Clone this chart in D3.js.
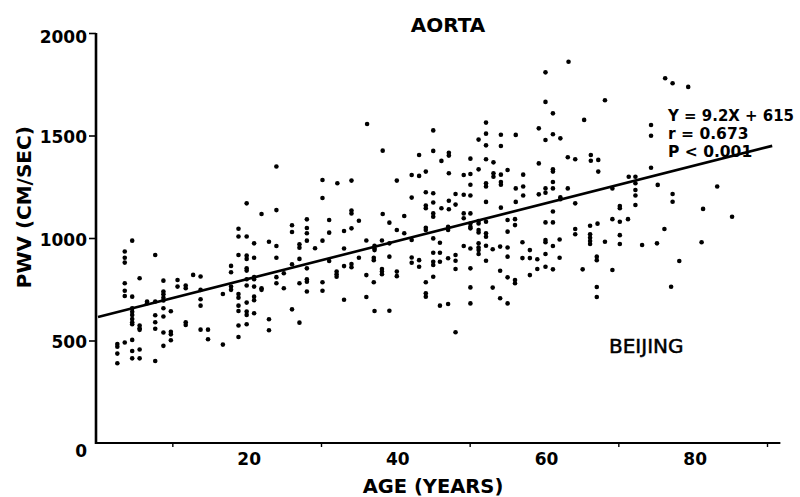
<!DOCTYPE html>
<html><head><meta charset="utf-8">
<script src="https://cdn.jsdelivr.net/npm/d3@7"></script>
<style>
body{margin:0;background:#fff}
svg{display:block}
text{font-family:"DejaVu Sans",sans-serif;fill:#000}
</style>
</head><body><svg id="c" width="800" height="497"></svg>
<script>
const title = "AORTA";
const xLabel = "AGE (YEARS)";
const yLabel = "PWV (CM/SEC)";
const siteLabel = "BEIJING";
const xTickLabels = [20, 40, 60, 80];
const xMinorTicks = [10, 30, 50, 70, 90];
const yTickLabels = [0, 500, 1000, 1500, 2000];
const slope = 9.2, intercept = 615;
const statLines = ["Y = 9.2X + 615", "r = 0.673", "P < 0.001"];

// [age (years), PWV (cm/sec)]
const youngPoints = [
[24.0,1349],[30.2,1283],[20.0,1169],[30.2,1195],[22.0,1117],[24.0,1136],[28.1,1091],[26.1,1062],[18.9,1045],[26.1,1029],[28.1,1049],[28.1,1023],
[18.9,1007],[20.0,1007],[4.6,987],[21.0,974],[23.0,982],[24.0,961],[27.1,969],[27.1,953],[28.1,987],[29.2,950],[30.2,987],
[3.6,934],[3.6,904],[3.6,880],[7.7,917],[18.9,917],[20.0,914],[20.0,898],[21.0,904],[24.0,904],[27.1,898],
[17.9,864],[17.9,833],[20.0,852],[20.0,841],[5.6,804],[8.8,792],[10.7,795],[10.7,763],[12.8,820],[13.8,812],
[21.0,809],[21.0,799],[20.0,799],[24.0,809],[24.0,779],[25.0,828],[26.1,872],[28.1,852],[28.1,799],[28.1,787],[27.1,779],[30.2,784],[30.2,743],
[3.6,779],[3.6,743],[3.6,717],[4.6,714],[11.8,768],[11.8,755],[8.8,739],[8.8,726],[8.8,709],[8.8,695],[7.7,690],[6.6,690],[6.6,682],
[13.8,747],[13.8,701],[13.8,670],[17.9,763],[17.9,747],[16.8,727],[18.9,727],[18.9,709],[20.0,768],[21.0,763],[22.0,755],[22.0,747],[21.0,714],[21.0,696],[25.0,755],[28.1,739],
[4.6,657],[4.6,640],[4.6,625],[4.6,605],[4.6,589],[4.6,579],[8.8,657],[9.8,643],[7.7,623],[8.8,617],[7.7,589],[7.7,557],[5.6,573],[5.6,560],[5.6,552],[8.8,539],[9.8,543],[9.8,530],[9.8,501],[11.8,589],[11.8,576],
[18.9,670],[18.9,644],[20.0,685],[20.0,641],[20.0,625],[21.0,633],[20.0,579],[18.9,573],[18.9,517],[23.0,604],[23.0,550],[26.1,652],[27.1,587],[13.8,553],[14.8,553],[14.8,506],[16.8,480],[8.8,474],
[2.6,483],[2.6,470],[3.6,490],[4.6,503],[2.6,436],[4.6,449],[5.6,456],[2.6,389],[4.6,413],[5.6,413],[7.7,400]
];
const middlePoints = [
[60.2,1808],[60.2,1664],[61.2,1608],[36.2,1556],[52.2,1563],[45.1,1525],[52.2,1509],[54.2,1504],[56.2,1503],[59.3,1535],[60.2,1478],[61.2,1506],[51.2,1480],
[38.3,1426],[45.1,1425],[52.2,1452],[54.2,1449],[43.2,1405],[47.2,1416],[47.2,1402],[46.2,1376],[50.1,1387],[52.2,1384],[53.2,1369],[59.3,1364],[61.2,1335],[61.2,1324],
[32.2,1267],[34.1,1280],[40.2,1280],[42.2,1307],[43.2,1303],[44.1,1324],[47.2,1316],[49.2,1307],[50.1,1312],[51.2,1335],[53.2,1316],[53.2,1299],[54.2,1309],[55.1,1332],[57.2,1309],[61.2,1273],
[50.1,1260],[52.2,1267],[52.2,1251],[54.2,1273],[54.2,1260],[56.2,1242],[57.2,1251],[59.3,1213],[60.2,1242],[60.2,1221],[61.2,1242],
[42.2,1197],[44.1,1223],[45.1,1218],[48.1,1215],[49.2,1211],[50.1,1207],[57.2,1207],[47.2,1182],[48.1,1163],[52.2,1176],[56.2,1176],
[44.1,1158],[44.1,1145],[45.1,1173],[45.1,1120],[46.2,1145],[47.2,1140],[54.2,1148],[34.1,1134],[34.1,1120],[38.3,1117],[61.2,1129],[49.2,1120],[50.1,1120],
[31.1,1088],[31.1,1026],[33.1,1034],[34.1,1047],[35.1,1084],[39.2,1075],[40.2,1039],[41.2,1023],[41.2,1107],[44.1,1050],[44.1,1039],[45.1,1104],[47.1,1055],[47.1,1039],[49.2,1096],
[50.1,1071],[50.1,1055],[50.1,1047],[51.2,1083],[51.2,1071],[51.2,1039],[51.2,1027],[52.2,1079],[52.2,1023],[52.2,1006],[55.1,1088],[55.1,1031],[56.1,1092],[56.1,1063],[60.2,1076],[61.2,1076],
[36.1,988],[38.2,988],[37.2,962],[37.2,949],[37.2,941],[33.1,949],[35.1,904],[39.2,974],[42.2,990],[45.1,998],[46.0,977],[49.2,961],[50.1,949],
[51.2,974],[51.2,954],[51.2,941],[51.2,922],[52.2,962],[53.1,945],[54.1,958],[55.1,954],[57.1,979],[58.1,941],[60.2,990],[60.2,979],[61.2,961],
[37.1,904],[37.1,892],[39.2,909],[42.2,905],[42.2,879],[43.2,892],[43.2,860],[45.1,928],[46.0,928],[45.1,884],[45.1,868],[46.0,884],[47.1,901],[48.1,917],[48.1,889],
[55.1,909],[52.2,889],[57.1,902],[58.1,902],[59.1,896],[60.2,922],[31.1,888],[33.1,863],[34.1,873],[34.1,857],[32.1,836],[32.1,823],[32.1,811],[36.1,819],
[38.2,849],[38.2,836],[38.2,823],[40.2,836],[40.2,814],[48.1,849],[50.1,852],[54.1,840],[55.1,808],[56.1,795],[56.1,779],[58.1,819],[59.1,849],[60.2,860],[61.2,847],
[37.1,784],[45.1,811],[44.1,784],[50.1,759],[53.1,758],[33.1,699],[36.1,712],[44.1,730],[44.1,714],[37.2,644],[39.2,645],[46.0,670],[47.1,678],[50.1,681],[54.1,706],[55.1,681],[48.1,540]
];
const olderPoints = [
[63.3,1860],[76.3,1779],[77.3,1755],[79.4,1737],[68.2,1672],[65.4,1576],[62.2,1486],[74.4,1551],[74.4,1499],[63.2,1394],[64.2,1384],[66.3,1405],[66.3,1377],[67.3,1381],[67.3,1324],[74.4,1343],
[71.4,1299],[72.3,1299],[63.2,1242],[62.2,1199],[62.2,1189],[64.2,1169],[69.2,1242],[72.3,1267],[72.3,1234],[72.3,1207],[72.3,1161],[75.3,1259],[77.3,1215],[77.3,1177],[83.3,1251],[81.4,1142],[70.2,1156],[70.2,1145],
[69.2,1092],[70.2,1079],[71.3,1092],[85.3,1104],[64.2,1044],[64.2,1018],[66.2,1060],[67.2,1070],[62.1,993],[66.2,1018],[66.2,1001],[66.2,985],[66.2,971],[68.2,982],[70.2,1014],[70.2,971],
[73.2,966],[75.2,974],[76.2,1044],[81.2,979],[62.1,904],[67.1,909],[67.1,892],[65.2,847],[69.2,844],[78.2,888],[67.1,761],[67.1,712],[77.1,762]
];

const allPoints = youngPoints.concat(middlePoints, olderPoints);

const svg = d3.select("#c");
const x = d3.scaleLinear().domain([0, 90]).range([98, 767]);
const y = d3.scaleLinear().domain([0, 2000]).range([443, 33]);
const axisX0 = x(0) - 2;

// Title
svg.append("text").attr("x", 448).attr("y", 32).attr("text-anchor", "middle")
  .style("font-size", "20px").style("font-weight", "bold").text(title);

// Y axis
const yAxis = svg.append("g").attr("transform", `translate(${axisX0},0)`)
  .call(d3.axisLeft(y).tickValues(yTickLabels).tickSize(7).tickPadding(2).tickFormat(d3.format("d")));
yAxis.select(".domain").remove();
yAxis.selectAll(".tick line").attr("stroke", "#000").attr("stroke-width", 1.6);
yAxis.selectAll(".tick text").attr("dy", null)
  .attr("y", d => d === 0 ? 13 : d === 2000 ? 9.5 : 7)
  .style("font-size", "17px").style("font-weight", "bold").style("font-family", "DejaVu Sans").attr("fill", "#000");
yAxis.selectAll(".tick").filter(d => d === 0).select("line").remove();
svg.append("line").attr("x1", axisX0).attr("x2", axisX0).attr("y1", y(0) + 1).attr("y2", y(2000))
  .attr("stroke", "#000").attr("stroke-width", 2.6);

// X axis: minor ticks
const xMinor = svg.append("g").attr("transform", `translate(0,${y(0)})`)
  .call(d3.axisBottom(x).tickValues(xMinorTicks).tickSize(4).tickFormat(""));
xMinor.select(".domain").remove();
xMinor.selectAll(".tick line").attr("stroke", "#000").attr("stroke-width", 1.4);
const xLab = svg.append("g").attr("transform", `translate(2,${y(0)})`)
  .call(d3.axisBottom(x).tickValues(xTickLabels).tickSize(0).tickPadding(0));
xLab.select(".domain").remove();
xLab.selectAll(".tick text").attr("dy", null).attr("y", 22)
  .style("font-size", "17px").style("font-weight", "bold").style("font-family", "DejaVu Sans").attr("fill", "#000");
svg.append("line").attr("x1", axisX0 - 1).attr("x2", x(91.8)).attr("y1", y(0)).attr("y2", y(0))
  .attr("stroke", "#000").attr("stroke-width", 2.2);

// Axis titles
svg.append("text").attr("x", 433).attr("y", 493).attr("text-anchor", "middle")
  .style("font-size", "19.5px").style("font-weight", "bold").text(xLabel);
svg.append("text").attr("transform", `translate(31,${(y(750) + y(1550)) / 2}) rotate(-90)`)
  .attr("text-anchor", "middle").style("font-size", "20px").style("font-weight", "bold").text(yLabel);

// Points
svg.append("g").selectAll("circle").data(allPoints).join("circle")
  .attr("cx", d => x(d[0])).attr("cy", d => y(d[1])).attr("r", 2.3).attr("fill", "#000");

// Regression line
const lineAges = [0, 90.7];
svg.append("path")
  .attr("d", d3.line().x(a => x(a)).y(a => y(slope * a + intercept))(lineAges))
  .attr("fill", "none").attr("stroke", "#000").attr("stroke-width", 2.6);

// Stats text
svg.append("g").selectAll("text").data(statLines).join("text")
  .attr("x", 668).attr("y", (d, i) => 121 + i * 18)
  .style("font-size", "15.5px").style("font-weight", "bold")
  .attr("textLength", (d, i) => i === 0 ? 126 : null)
  .attr("lengthAdjust", "spacingAndGlyphs")
  .text(d => d);

// Site label
svg.append("text").attr("x", 609).attr("y", 353)
  .style("font-size", "20px").attr("stroke", "#000").attr("stroke-width", 0.5).text(siteLabel);
</script>
</body></html>
